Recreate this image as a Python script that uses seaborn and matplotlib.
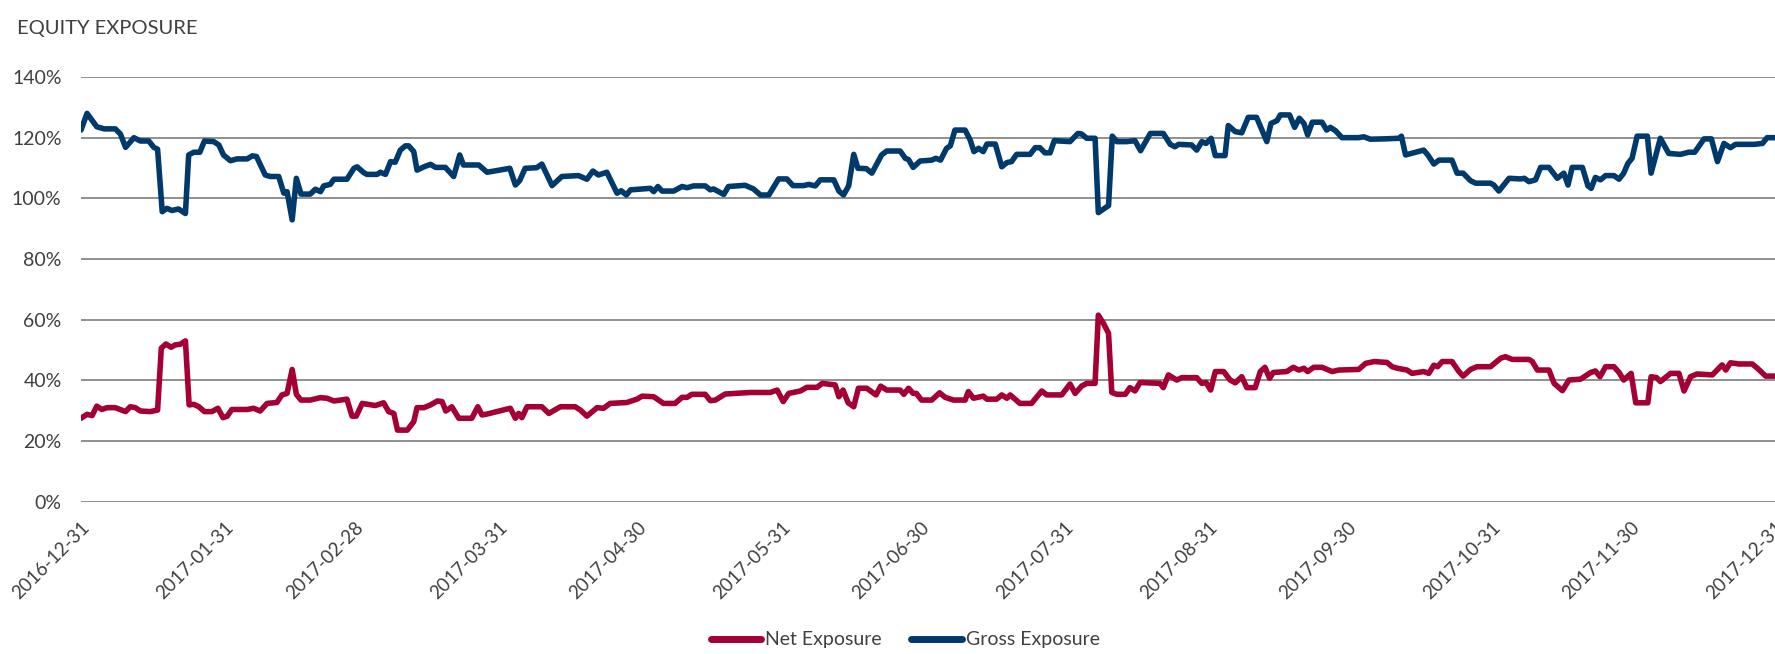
import pandas as pd
import seaborn as sns
import matplotlib.pyplot as plt
import matplotlib.transforms as mtransforms
from matplotlib.lines import Line2D

# days after 2016-12-31
start = pd.Timestamp("2016-12-31")

gross_days = [0, 1.3, 3.4, 5, 7.4, 8.5, 9.6, 11.4, 12.8, 14.6, 15.7, 16.5, 17.5, 18.5, 19.6, 21, 22.5,
              23.2, 24.3, 25.6, 26.6, 28.6, 29.7, 30.7, 32.2, 33.6, 35.8, 36.9, 37.8, 39.7, 40.8, 42.6,
              43.7, 44.4, 45.5, 46.4, 47.4, 49.4, 50.5, 51.6, 52.3, 53.7, 54.5, 57.3, 58.8, 59.5, 60.9,
              61.6, 63.8, 64.5, 65.6, 66.7, 67.7, 68.8, 69.9, 70.6, 71.7, 72.4, 73.9, 75.3, 76.4, 78.5,
              80.3, 81.6, 82.4, 85.7, 87.5, 92.4, 93.6, 94.5, 95.7, 98.2, 99.3, 101.5, 103.6, 107.2,
              109, 110.3, 111.5, 113.3, 115.5, 116.4, 117.5, 118.4, 122.7, 123.4, 124.3, 125.2, 127.7,
              129.5, 130.6, 132, 134.5, 135.6, 136.3, 138.5, 139.5, 143.1, 144.9, 146.4, 148.2, 150.3,
              152.1, 153.4, 155.7, 156.8, 158.2, 159.3, 162.2, 163.3, 164.3, 165.4, 166.5, 167.4, 169.2,
              170.4, 172.5, 173.6, 176.5, 177.6, 178.3, 179.3, 180.8, 183.3, 184.2, 185.2, 186.5, 187.3,
              188.3, 190.5, 191.6, 192.4, 193.4, 194.4, 195.2, 197, 198.4, 199.5, 200.5, 201.6, 204.5,
              205.6, 206.6, 207.7, 208.8, 209.7, 213.1, 214.8, 215.6, 216.7, 218.5, 219.2, 221.4, 222.2,
              223.2, 225.3, 227.1, 228.3, 230.4, 233.2, 234.7, 235.7, 236.5, 239.3, 240.4, 241.5, 242.4,
              243.5, 244.4, 246.5, 247.2, 248.7, 250.1, 251.5, 253.3, 255.5, 256.4, 257.7, 258.4, 260.4,
              261.5, 262.5, 263.5, 264.3, 265.3, 267.4, 268.4, 269.2, 270.3, 271.7, 275.3, 276.4, 277.8,
              280.7, 284, 284.5, 285.4, 289.3, 290.2, 291.5, 292.6, 295.4, 296.5, 297.8, 299.4, 300.5,
              303.7, 304.4, 305.5, 307.7, 310.2, 311, 312, 313.4, 314.5, 316.3, 318.1, 319.5, 320.4,
              321.3, 323.5, 324.7, 325.4, 326.3, 327.4, 328.5, 330.3, 331.4, 332.4, 333.3, 334.2, 335.3,
              337.5, 338.3, 340.3, 342.1, 344.6, 346.4, 347.7, 349.7, 351.3, 352.6, 354, 355.4, 356.5,
              360.5, 362.3, 363.3, 365]
gross_vals = [122.5, 128, 123.6, 122.9, 122.9, 121.2, 116.8, 120, 118.9, 118.9, 116.8, 116.2, 95.6, 96.7,
              96, 96.5, 95, 114.3, 115.2, 115.2, 118.9, 118.7, 117.6, 114.3, 112.4, 113, 113, 114, 113.8,
              107.7, 107.2, 107.2, 101.7, 102.2, 92.9, 106.6, 101.4, 101.4, 103, 102.2, 104.1, 104.6,
              106.3, 106.3, 109.9, 110.4, 108.5, 107.9, 107.9, 108.6, 107.9, 112.1, 111.9, 115.9, 117.3,
              117.3, 115.4, 109.3, 110.4, 111.2, 110.2, 110.2, 107.2, 114.3, 111, 111, 108.6, 109.9,
              104.4, 105.8, 109.9, 110.1, 111.3, 104.2, 107.2, 107.5, 106.3, 109, 107.7, 108.6, 101.7,
              102.5, 101.1, 102.8, 103.3, 102.2, 103.9, 102.4, 102.4, 103.9, 103.5, 104.1, 104.1, 102.8,
              103.1, 101.3, 103.9, 104.3, 103.1, 101.1, 101.1, 106.4, 106.4, 104.2, 104.2, 104.6, 104.1,
              106.1, 106.1, 102.4, 101.1, 104.1, 114.5, 109.9, 109.8, 108.3, 114.3, 115.6, 115.6, 113.2,
              112.8, 110.2, 112.3, 112.6, 113.2, 112.6, 116.5, 117.3, 122.5, 122.5, 119.2, 115.4, 116.5,
              115.4, 117.9, 117.9, 110.4, 111.8, 112.1, 114.5, 114.5, 116.7, 116.7, 115, 115, 119, 118.7,
              121.4, 121.2, 119.8, 119.8, 95.3, 97.6, 120.5, 118.7, 118.7, 119, 115.7, 121.4, 121.4,
              117.8, 117, 117.8, 117.6, 115.9, 118.7, 118.1, 119.8, 114.1, 114.1, 124, 122, 121.6, 126.7,
              126.7, 118.7, 124.7, 125.6, 127.5, 127.5, 123.4, 126.4, 124.7, 120.9, 125.1, 125.1, 122.5,
              123.4, 122.3, 120, 120, 120.3, 119.5, 119.6, 119.8, 120.5, 114.3, 115.9, 114.3, 111.3,
              112.6, 112.6, 108.3, 108.3, 105.8, 105, 105, 104.4, 102.4, 106.6, 106.4, 106.6, 105.5,
              106.1, 110.2, 110.2, 106.6, 108.3, 104.4, 110.2, 110.2, 104.1, 103.3, 106.9, 106.1, 107.5,
              107.5, 106.3, 108.3, 111.5, 113.2, 120.5, 120.5, 108.3, 119.8, 114.8, 114.5, 115.2, 115.2,
              119.6, 119.6, 112.1, 118.1, 116.7, 117.8, 117.8, 118.1, 120, 120]

net_days = [0, 1.3, 2.4, 3.4, 4.5, 5.6, 7.4, 9.6, 10.6, 11.7, 12.8, 14.9, 16.5, 17.3, 18.3, 19.4, 20.3,
            21.4, 22.5, 23.3, 24.3, 25.4, 26.6, 28.2, 29.5, 30.6, 31.5, 32.5, 35.8, 37.2, 38.6, 40.1,
            42.2, 43.3, 44.4, 45.5, 46.4, 47.4, 49.4, 51.6, 53, 54.5, 57.3, 58.4, 59.3, 60.6, 63.4,
            65.2, 66.3, 67.4, 68.2, 70.3, 71.7, 72.4, 73.9, 75.3, 76.8, 77.8, 78.6, 79.9, 81.4, 84.2,
            85.5, 86.4, 87.5, 92.5, 93.6, 94.3, 95, 96.1, 99.3, 100.8, 103.3, 106.5, 107.6, 109, 111.2,
            112.6, 114, 117.6, 119.8, 120.9, 123.4, 125.5, 128, 129.5, 130.6, 131.6, 134.5, 135.6,
            136.7, 138.8, 144.2, 148.5, 150, 151.3, 152.5, 155, 156.4, 158.6, 159.7, 162.5, 163.3,
            164.2, 165.3, 166.5, 167.5, 169.3, 171.3, 172.3, 173.6, 176.5, 177.3, 178.3, 179.3, 180,
            181.1, 183.3, 185, 186.2, 188, 190.5, 191.2, 192.3, 194.4, 195.2, 197.3, 198.4, 199.5,
            200.2, 202.3, 204.8, 207, 208.1, 211.3, 213.1, 214.2, 215.6, 216.7, 218.5, 219.2, 220.3,
            221.4, 222.1, 223.2, 225, 226, 227.1, 228.2, 232.5, 233.2, 234.3, 236.1, 237.2, 240.4,
            241.5, 242.4, 243.4, 244.4, 246.2, 247.6, 248.7, 250.1, 251.2, 253, 254.1, 255.1, 256.1,
            256.9, 259.8, 261.2, 262.4, 263.5, 264.3, 265.6, 267.4, 269.6, 271, 275.3, 276.8, 278.6,
            281.4, 282.5, 283.6, 285.7, 286.8, 289.3, 290.4, 291.5, 292.3, 293.3, 295.4, 296.9, 297.8,
            299.4, 300.8, 303.7, 305.9, 306.9, 308.4, 312, 312.7, 313.8, 316.3, 317.4, 319.2, 320.6,
            323.1, 325.3, 326.3, 327.3, 328.5, 330.3, 331.4, 332.4, 334, 335, 337.6, 338.3, 339.5,
            340.3, 342.5, 344.3, 345.4, 346.8, 348.2, 351.5, 353.6, 354.4, 355.4, 357.2, 360.1, 361.2,
            363, 365]
net_vals = [27.5, 28.8, 28.4, 31.5, 30.4, 31, 31, 29.7, 31.3, 31, 29.9, 29.7, 30.2, 50.6, 52, 50.9, 51.7,
            51.9, 53, 31.9, 32.1, 31.3, 29.7, 29.7, 30.8, 27.7, 28.2, 30.4, 30.4, 30.8, 29.9, 32.4, 32.7,
            35.2, 35.7, 43.6, 35.4, 33.5, 33.5, 34.3, 34.1, 33.2, 33.8, 28.2, 28.2, 32.4, 31.7, 32.6,
            29.7, 29.1, 23.6, 23.6, 26.4, 31, 31, 31.9, 33.2, 33, 29.9, 31.3, 27.5, 27.5, 31.3, 28.6,
            28.9, 30.8, 27.5, 29.1, 27.7, 31.3, 31.3, 29.1, 31.3, 31.3, 30.2, 28.2, 31, 30.8, 32.4, 32.7,
            33.8, 34.8, 34.6, 32.4, 32.4, 34.4, 34.4, 35.4, 35.4, 33.3, 33.5, 35.5, 36, 36, 36.8, 33,
            35.7, 36.5, 37.7, 37.7, 39, 38.5, 34.6, 36.8, 32.6, 31.3, 37.4, 37.4, 35.2, 38.1, 36.8, 36.8,
            35.4, 37.4, 35.7, 35.7, 33.5, 33.5, 35.9, 34.4, 33.5, 33.5, 36.3, 34.1, 34.8, 33.8, 33.8,
            35.2, 34.1, 35.2, 32.4, 32.4, 36.5, 35.2, 35.2, 38.8, 35.7, 38.1, 39, 39, 61.5, 58.8, 55.5,
            36, 35.4, 35.4, 37.6, 36.5, 39.3, 39, 37.6, 41.8, 40.1, 40.9, 40.9, 39, 39.3, 36.8, 42.9,
            42.9, 40.1, 39.2, 41.2, 37.6, 37.6, 42.9, 44.3, 40.7, 42.6, 42.9, 44.3, 43.4, 44, 42.9, 44.3,
            44.3, 42.9, 43.4, 43.6, 45.6, 46.2, 45.9, 44.5, 44, 43.4, 42.3, 42.9, 42.3, 45, 44.5, 46.2,
            46.2, 42.9, 41.4, 43.6, 44.5, 44.5, 47.3, 47.8, 46.9, 46.9, 46.2, 43.4, 43.4, 39, 36.6, 40.1,
            40.4, 42.6, 43.1, 41.2, 44.5, 44.5, 42.6, 40.1, 42.3, 32.6, 32.6, 41.2, 40.9, 39.6, 42.3,
            42.3, 36.5, 41.2, 42.1, 41.8, 45.1, 43.4, 45.8, 45.4, 45.4, 44, 41.4, 41.4]

tick_labels = ["2016-12-31", "2017-01-31", "2017-02-28", "2017-03-31", "2017-04-30", "2017-05-31",
               "2017-06-30", "2017-07-31", "2017-08-31", "2017-09-30", "2017-10-31", "2017-11-30",
               "2017-12-31"]
y_ticks = [0, 20, 40, 60, 80, 100, 120, 140]

colors = {"Net Exposure": "#A50034", "Gross Exposure": "#003A6C"}

df = pd.concat([
    pd.DataFrame({"date": start + pd.to_timedelta(net_days, unit="D"), "value": net_vals,
                  "series": "Net Exposure"}),
    pd.DataFrame({"date": start + pd.to_timedelta(gross_days, unit="D"), "value": gross_vals,
                  "series": "Gross Exposure"}),
])

sns.set_style("white")
plt.rcParams["font.family"] = ["Lato", "DejaVu Sans"]
txt = "#404040"

fig = plt.figure(figsize=(17.75, 6.54), dpi=100)
ax = fig.add_axes([81 / 1775, 1 - 501.7 / 654, 1 - 81 / 1775, (501.7 - 77) / 654])

sns.lineplot(data=df, x="date", y="value", hue="series", palette=colors,
             hue_order=["Net Exposure", "Gross Exposure"], estimator=None, sort=True,
             linewidth=4.0, legend=False, ax=ax)

ax.set_xlim(pd.Timestamp(tick_labels[0]), pd.Timestamp(tick_labels[-1]))
ax.set_ylim(0, 140)
ax.set_xticks([pd.Timestamp(t) for t in tick_labels])
ax.set_xticklabels(tick_labels, rotation=45, ha="right", rotation_mode="anchor",
                   fontsize=13.5, color=txt)
# labels sit a bit right of the tick in the original
shift = mtransforms.ScaledTranslation(0.1, 0, fig.dpi_scale_trans)
for lab in ax.get_xticklabels():
    lab.set_transform(lab.get_transform() + shift)
ax.set_yticks(y_ticks)
ax.set_yticklabels([f"{v}%" for v in y_ticks], fontsize=14, color=txt)
ax.tick_params(axis="both", length=0)
ax.tick_params(axis="y", pad=14)
ax.tick_params(axis="x", pad=12)
ax.set_xlabel("")
ax.set_ylabel("")
ax.grid(axis="y", color="#8f8f8f", linewidth=1.4)
ax.grid(axis="x", visible=False)
ax.set_axisbelow(True)
for s in ax.spines.values():
    s.set_visible(False)

fig.text(17 / 1775, 1 - 34 / 654, "EQUITY EXPOSURE", fontsize=14.5, color=txt, va="baseline")

handles = [Line2D([], [], color=colors[k], lw=5) for k in colors]
fig.legend(handles, list(colors), loc="center", bbox_to_anchor=(0.51, 1 - 640 / 654), ncol=2,
           frameon=False, fontsize=14, handlelength=2.6, handletextpad=0.2, columnspacing=1.5,
           labelcolor=txt)

fig.savefig("out.png", dpi=100)
